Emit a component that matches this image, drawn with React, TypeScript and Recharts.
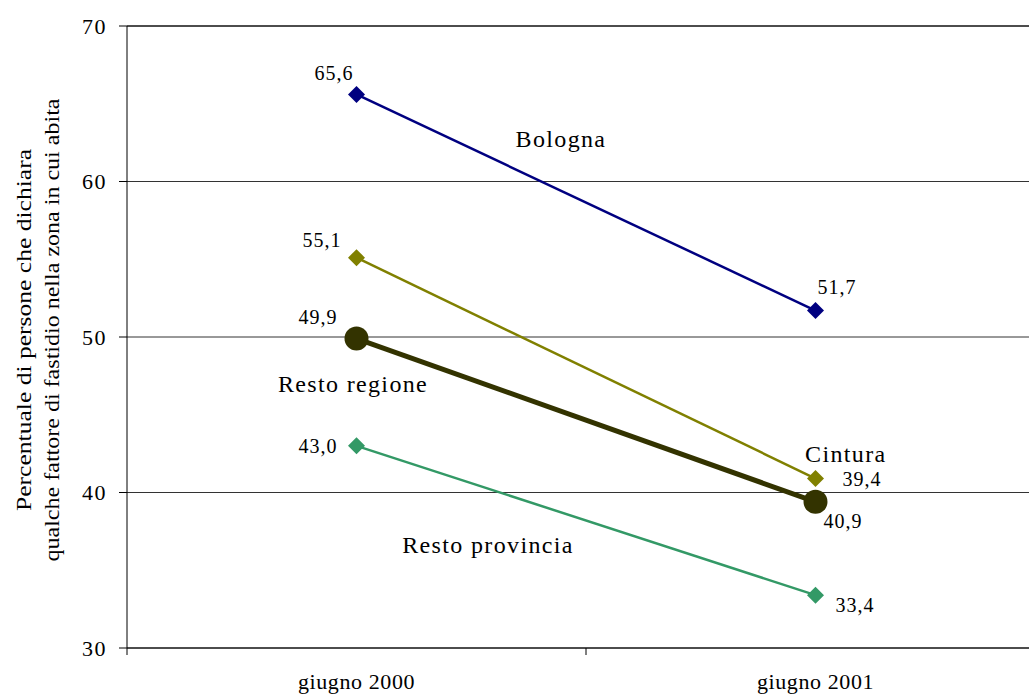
import React from 'react';
import {
  LineChart,
  Line,
  XAxis,
  YAxis,
  CartesianGrid,
  LabelList,
  ReferenceDot,
  ReferenceLine,
} from 'recharts';

// ---- data ----
const categories = ['giugno 2000', 'giugno 2001'];
const bologna = [65.6, 51.7];
const cintura = [55.1, 40.9];
const restoRegione = [49.9, 39.4];
const restoProvincia = [43.0, 33.4];
const bolognaLabels = ['65,6', '51,7'];
const cinturaLabels = ['55,1', '39,4'];
const restoRegioneLabels = ['49,9', '40,9'];
const restoProvinciaLabels = ['43,0', '33,4'];
const yTicks = [30, 40, 50, 60, 70];
const xTicks = [0, 0.5, 1, 1.5, 2];
const yAxisTitle = [
  'Percentuale di persone che dichiara',
  'qualche fattore di fastidio nella zona in cui abita',
];
const seriesNames = ['Bologna', 'Cintura', 'Resto regione', 'Resto provincia'];
// series name annotations (data coordinates)
const annotationX = [0.9455, 1.566, 0.4924, 0.7865];
const annotationY = [62.24, 41.98, 46.48, 36.09];

const data = categories.map((c, i) => ({
  x: i + 0.5,
  cat: c,
  bologna: bologna[i],
  cintura: cintura[i],
  restoRegione: restoRegione[i],
  restoProvincia: restoProvincia[i],
}));

const FONT = '"Liberation Serif", serif';
const fontStyle = { fontFamily: FONT };

const series = [
  { key: 'restoProvincia', color: '#339966', width: 2.5, shape: 'diamond', labels: restoProvinciaLabels, dx: [-19, 20], dy: [7, 16.5] },
  { key: 'restoRegione', color: '#333300', width: 5, shape: 'circle', labels: restoRegioneLabels, dx: [-19, 8], dy: [-14.5, 26] },
  { key: 'cintura', color: '#808000', width: 2.5, shape: 'diamond', labels: cinturaLabels, dx: [-15, 27], dy: [-11, 7.5] },
  { key: 'bologna', color: '#000080', width: 2.5, shape: 'diamond', labels: bolognaLabels, dx: [-3, 2], dy: [-14, -17] },
];

const TICK_SIZE = 7;
const TICK_MARGIN = 18;

const XTick = (props: any) => {
  const { x, y, payload } = props;
  const v = payload.value;
  const axisY = y - TICK_SIZE - TICK_MARGIN;
  if (Number.isInteger(v)) {
    return <line x1={x} x2={x} y1={axisY} y2={axisY + TICK_SIZE} stroke="#000" strokeWidth={1} />;
  }
  const label = categories[Math.floor(v)];
  return (
    <text x={x} y={y} dy="0.71em" textAnchor="middle" style={fontStyle} fontSize={22} letterSpacing={0.6} fill="#000">
      {label}
    </text>
  );
};

const YTick = (props: any) => {
  const { x, y, payload } = props;
  return (
    <text x={x} y={y} dy="0.36em" textAnchor="end" style={fontStyle} fontSize={22} letterSpacing={1.5} fill="#000">
      {payload.value}
    </text>
  );
};

const makeDot = (s: any) => (props: any) => {
  const { cx, cy, index } = props;
  if (cx == null || cy == null) return <g key={index} />;
  if (s.shape === 'circle') {
    return <circle key={index} cx={cx} cy={cy} r={12} fill={s.color} stroke="none" />;
  }
  const h = 8.5;
  return (
    <polygon
      key={index}
      points={`${cx},${cy - h} ${cx + h},${cy} ${cx},${cy + h} ${cx - h},${cy}`}
      fill={s.color}
      stroke="none"
    />
  );
};

const makeLabel = (s: any) => (props: any) => {
  const { x, y, index } = props;
  if (x == null || y == null) return null;
  return (
    <text
      key={index}
      x={x + s.dx[index]}
      y={y + s.dy[index]}
      textAnchor={index === 0 ? 'end' : 'start'}
      style={fontStyle}
      fontSize={20}
      letterSpacing={1}
      fill="#000"
    >
      {s.labels[index]}
    </text>
  );
};

const YTitle = (props: any) => {
  const vb = props.viewBox || {};
  const cy = vb.y + vb.height / 2 - 7;
  const xs = [31, 59];
  const lens = [362, 463];
  return (
    <g>
      {yAxisTitle.map((t, i) => (
        <text
          key={i}
          x={xs[i]}
          y={cy}
          transform={`rotate(-90, ${xs[i]}, ${cy})`}
          textAnchor="middle"
          style={fontStyle}
          fontSize={21}
          textLength={lens[i]}
          lengthAdjust="spacingAndGlyphs"
          fill="#000"
        >
          {t}
        </text>
      ))}
    </g>
  );
};

const AnnotationShape = (text: string) => (props: any) => (
  <text
    x={props.cx}
    y={props.cy}
    textAnchor="middle"
    style={fontStyle}
    fontSize={24}
    letterSpacing={1.35}
    fill="#000"
  >
    {text}
  </text>
);

export default function App() {
  return (
    <div
      style={{
        position: 'absolute',
        left: 0,
        top: 0,
        width: 1029,
        height: 696,
        overflow: 'hidden',
        background: '#fff',
        fontFamily: FONT,
      }}
    >
      <LineChart
        width={1060}
        height={696}
        data={data}
        margin={{ top: 26, right: 15, left: 0, bottom: 8 }}
        style={fontStyle}
      >
        <CartesianGrid vertical={false} stroke="#333333" strokeWidth={1} />
        <XAxis
          type="number"
          dataKey="x"
          domain={[0, 2]}
          ticks={xTicks}
          interval={0}
          tick={<XTick />}
          tickLine={false}
          tickSize={TICK_SIZE}
          tickMargin={TICK_MARGIN}
          axisLine={{ stroke: '#000', strokeWidth: 1 }}
          height={40}
          allowDataOverflow
        />
        <YAxis
          type="number"
          domain={[30, 70]}
          ticks={yTicks}
          interval={0}
          width={127}
          tick={<YTick />}
          tickSize={8}
          tickMargin={12}
          tickLine={{ stroke: '#000' }}
          axisLine={{ stroke: '#000', strokeWidth: 1 }}
          label={<YTitle />}
          allowDataOverflow
        />
        <ReferenceLine y={70} stroke="#000" strokeWidth={1} />
        {series.map((s) => (
          <Line
            key={s.key}
            type="linear"
            dataKey={s.key}
            stroke={s.color}
            strokeWidth={s.width}
            dot={makeDot(s)}
            activeDot={false}
            isAnimationActive={false}
          >
            <LabelList dataKey={s.key} content={makeLabel(s)} />
          </Line>
        ))}
        {seriesNames.map((n, i) => (
          <ReferenceDot
            key={n}
            x={annotationX[i]}
            y={annotationY[i]}
            r={1}
            ifOverflow="visible"
            shape={AnnotationShape(n)}
          />
        ))}
      </LineChart>
    </div>
  );
}
